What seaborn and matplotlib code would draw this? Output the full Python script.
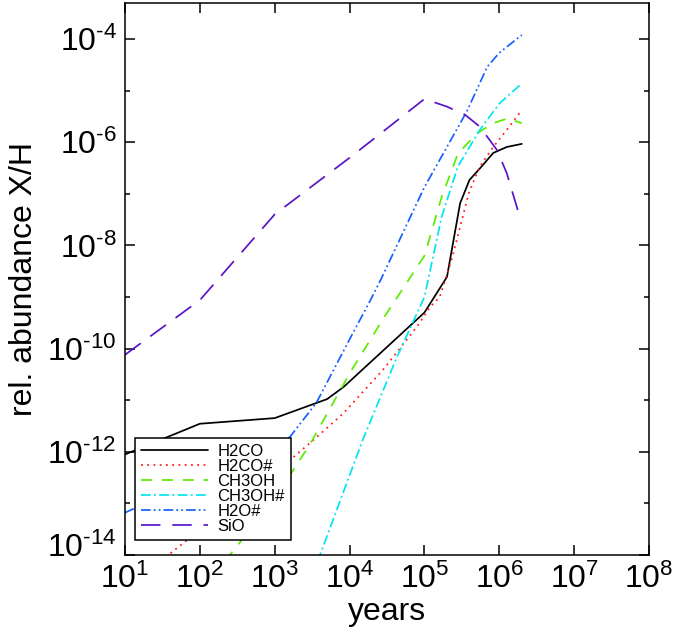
import matplotlib
matplotlib.use("Agg")
import numpy as np
import pandas as pd
import seaborn as sns
import matplotlib.pyplot as plt
import matplotlib.transforms as mtransforms
from matplotlib.ticker import FixedLocator, NullLocator, FixedFormatter, NullFormatter

# ---------------- data ----------------
h2co_t = [10, 100, 1000, 5000, 8300, 1e5, 2e5, 3e5, 4e5, 5.5e5, 8.3e5, 1.26e6, 2e6]
h2co_v = [8.9e-13, 3.5e-12, 4.5e-12, 1.05e-11, 1.8e-11, 5.0e-10, 2.45e-9, 6.6e-8,
          1.86e-7, 3.1e-7, 6.2e-7, 8.1e-7, 9.3e-7]

h2cos_t = [30, 50, 1600, 3300, 8300, 2.8e4, 8e4, 1.2e5, 1.6e5, 2.3e5, 3e5, 3.9e5,
           5.5e5, 8.3e5, 1.26e6, 2e6]
h2cos_v = [7.6e-15, 1.38e-14, 6.9e-13, 1.7e-12, 5.6e-12, 3.9e-11, 2.7e-10, 6.5e-10,
           1.0e-9, 5.2e-9, 2.3e-8, 1.02e-7, 3.4e-7, 8.1e-7, 1.74e-6, 4.2e-6]

ch3oh_t = [100, 300, 1000, 3000, 1e4, 3e4, 1e5, 1.7e5, 2.8e5, 5e5, 8.3e5, 1.3e6, 2e6]
ch3oh_v = [1.8e-15, 1.38e-14, 1.23e-13, 1.45e-12, 3.3e-11, 4.4e-10, 6.3e-9, 8.7e-8,
           6.0e-7, 1.48e-6, 2.34e-6, 2.9e-6, 2.34e-6]

ch3ohs_t = [3000, 4300, 1.5e4, 4.3e4, 1e5, 1.7e5, 2.8e5, 5.5e5, 1e6, 2e6]
ch3ohs_v = [3.5e-15, 1.29e-14, 1.7e-12, 6.9e-11, 1.0e-9, 3.6e-8, 3.4e-7, 1.74e-6,
            5.6e-6, 1.38e-5]

h2os_t = [10, 1600, 3600, 1e4, 1.9e4, 2.6e4, 1e5, 3.7e5, 6.9e5, 1e6, 2e6]
h2os_v = [6.6e-14, 1.95e-12, 8.9e-12, 1.51e-10, 8.7e-10, 2.14e-9, 1.35e-7, 4.0e-6,
          2.9e-5, 5.4e-5, 1.2e-4]

sio_t = [10, 100, 1000, 1e4, 2.6e4, 1e5, 2e5, 3.5e5, 5.5e5, 9.3e5, 1.26e6, 1.9e6]
sio_v = [7.6e-11, 8.7e-10, 4.0e-8, 5.0e-7, 1.48e-6, 6.9e-6, 4.9e-6, 3.4e-6, 2.0e-6,
         7.1e-7, 2.5e-7, 3.4e-8]

species = ["H2CO", "H2CO#", "CH3OH", "CH3OH#", "H2O#", "SiO"]
x_ticks = [1e1, 1e2, 1e3, 1e4, 1e5, 1e6, 1e7, 1e8]
x_ticklabels = [r"$10^{1}$", r"$10^{2}$", r"$10^{3}$", r"$10^{4}$", r"$10^{5}$",
                r"$10^{6}$", r"$10^{7}$", r"$10^{8}$"]
y_ticks = [1e-14, 1e-12, 1e-10, 1e-8, 1e-6, 1e-4]
y_ticklabels = [r"$10^{\text{-}14}$", r"$10^{\text{-}12}$", r"$10^{\text{-}10}$",
                r"$10^{\text{-}8}$", r"$10^{\text{-}6}$", r"$10^{\text{-}4}$"]
y_minor = [1e-13, 1e-11, 1e-9, 1e-7, 1e-5]

series = [(h2co_t, h2co_v), (h2cos_t, h2cos_v), (ch3oh_t, ch3oh_v),
          (ch3ohs_t, ch3ohs_v), (h2os_t, h2os_v), (sio_t, sio_v)]
frames = []
for name, (t, v) in zip(species, series):
    frames.append(pd.DataFrame({"years": t, "abundance": v, "species": name}))
df = pd.concat(frames, ignore_index=True)

# ---------------- style ----------------
sns.set_theme(style="ticks")
plt.rcParams["font.family"] = ["Liberation Sans", "DejaVu Sans"]
plt.rcParams["mathtext.fontset"] = "custom"
plt.rcParams["mathtext.rm"] = "Liberation Sans"
plt.rcParams["mathtext.it"] = "Liberation Sans:italic"
plt.rcParams["mathtext.bf"] = "Liberation Sans:bold"
plt.rcParams["lines.scale_dashes"] = False
plt.rcParams["text.color"] = "black"
plt.rcParams["axes.labelcolor"] = "black"
plt.rcParams["xtick.color"] = "black"
plt.rcParams["ytick.color"] = "black"
plt.rcParams["xtick.labelcolor"] = "black"
plt.rcParams["ytick.labelcolor"] = "black"

palette = {"H2CO": "#000000", "H2CO#": "#FF1A1A", "CH3OH": "#5CEB00",
           "CH3OH#": "#00E5F0", "H2O#": "#1660FF", "SiO": "#5A14C8"}
dashes = {"H2CO": "", "H2CO#": (1.3, 3.2), "CH3OH": (8, 7),
          "CH3OH#": (7, 2.4, 1.4, 2.4), "H2O#": (7, 2.2, 1.3, 2.2, 1.3, 2.2),
          "SiO": (14, 8.5)}

fig = plt.figure(figsize=(6.77, 6.39), dpi=100)
ax = fig.add_axes([125 / 677, 1 - 555 / 639, 524 / 677, 552 / 639])
ax.set_xscale("log")
ax.set_yscale("log")

sns.lineplot(data=df, x="years", y="abundance", hue="species", style="species",
             hue_order=species, style_order=species, palette=palette,
             dashes=dashes, sort=False, estimator=None, linewidth=1.25, ax=ax)

ax.set_xlim(10, 1e8)
ax.set_ylim(1e-14, 5e-4)

ax.xaxis.set_major_locator(FixedLocator(x_ticks))
ax.xaxis.set_major_formatter(FixedFormatter(x_ticklabels))
ax.xaxis.set_minor_locator(NullLocator())
ax.yaxis.set_major_locator(FixedLocator(y_ticks))
ax.yaxis.set_major_formatter(FixedFormatter(y_ticklabels))
ax.yaxis.set_minor_locator(FixedLocator(y_minor))
ax.yaxis.set_minor_formatter(NullFormatter())

ax.tick_params(which="both", direction="in", top=True, right=True,
               width=1.1, color="black", labelcolor="black", labelsize=23, pad=6)
ax.tick_params(which="major", length=7.2)
ax.tick_params(which="minor", length=3.8)
for s in ax.spines.values():
    s.set_linewidth(1.1)
    s.set_color("black")

ax.set_xlabel("years", fontsize=23, labelpad=2, color="black")
ax.set_ylabel("rel. abundance X/H", fontsize=23, labelpad=6, color="black")

handles, labels = ax.get_legend_handles_labels()
leg = ax.legend(handles, labels, loc="lower left",
                bbox_to_anchor=(10 / 524, 15 / 552), borderaxespad=0,
                fontsize=12, frameon=True, fancybox=False, framealpha=1,
                edgecolor="black", handlelength=4.0, handletextpad=0.6,
                labelspacing=0.0, borderpad=0.35, title=None, labelcolor="black")
leg.get_frame().set_linewidth(1.1)
for line in leg.get_lines():
    line.set_linewidth(1.25)

# nudge the lowest y label upward as in the reference
fig.canvas.draw()
off = mtransforms.ScaledTranslation(0, 7 / 72, fig.dpi_scale_trans)
t0 = ax.yaxis.get_major_ticks()[0]
t0.label1.set_transform(t0.label1.get_transform() + off)

fig.savefig("out.png", dpi=100, facecolor="white")
